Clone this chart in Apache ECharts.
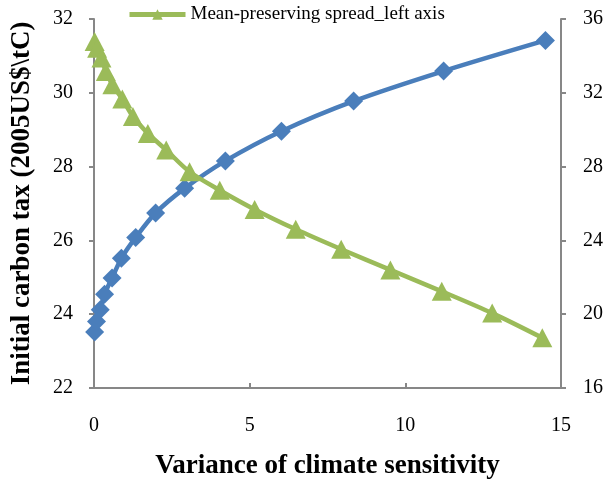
<!DOCTYPE html>
<html>
<head>
<meta charset="utf-8">
<script src="https://cdn.jsdelivr.net/npm/echarts@6/dist/echarts.min.js"></script>
<style>html,body{margin:0;padding:0;background:#fff}#c{width:608px;height:490px}</style>
</head>
<body>
<div id="c"></div>
<script>
// Green series: mean-preserving spread (left axis)
const greenName = 'Mean-preserving spread_left axis';
const greenX = [0.02, 0.10, 0.24, 0.38, 0.59, 0.91, 1.25, 1.73, 2.32, 3.07, 4.04, 5.16, 6.48, 7.94, 9.52, 11.17, 12.79, 14.40];
const greenY = [31.39, 31.21, 30.94, 30.58, 30.22, 29.83, 29.36, 28.90, 28.45, 27.86, 27.36, 26.84, 26.30, 25.76, 25.20, 24.62, 24.03, 23.36];
// Blue series (right axis)
const blueName = 'Right axis series';
const blueX = [0.02, 0.08, 0.20, 0.34, 0.58, 0.88, 1.34, 1.98, 2.91, 4.22, 6.02, 8.34, 11.23, 14.50];
const blueY = [19.03, 19.61, 20.24, 21.08, 21.96, 23.03, 24.16, 25.49, 26.82, 28.31, 29.92, 31.55, 33.18, 34.84];
// Axes
const xTicks = {min: 0, max: 15, interval: 5};
const leftTicks = {min: 22, max: 32, interval: 2};
const rightTicks = {min: 16, max: 36, interval: 4};
const xTitle = 'Variance of climate sensitivity';
const yTitle = 'Initial carbon tax (2005US$\\tC)';

const serif = 'Liberation Serif';
const axisGray = '#878787';
const chart = echarts.init(document.getElementById('c'));
const pair = (xs, ys) => xs.map((x, i) => [x, ys[i]]);
chart.setOption({
  animation: false,
  backgroundColor: '#fff',
  grid: {left: 94, right: 47, top: 19, bottom: 102, containLabel: false},
  legend: {
    data: [greenName], left: 127, top: 5, padding: 0, itemWidth: 56, itemHeight: 13, itemGap: 4,
    lineStyle: {width: 5},
    textStyle: {fontFamily: serif, fontSize: 19, color: '#000'}
  },
  xAxis: {
    type: 'value', min: xTicks.min, max: xTicks.max, interval: xTicks.interval,
    name: xTitle, nameLocation: 'middle', nameGap: 65,
    nameTextStyle: {fontFamily: serif, fontSize: 27, fontWeight: 'bold', color: '#000'},
    axisLine: {show: true, lineStyle: {color: axisGray, width: 2}},
    axisTick: {show: true, inside: true, length: 5, lineStyle: {color: axisGray, width: 2}},
    axisLabel: {fontFamily: serif, fontSize: 20, color: '#000', margin: 28},
    splitLine: {show: false}
  },
  yAxis: [{
    type: 'value', position: 'left', min: leftTicks.min, max: leftTicks.max, interval: leftTicks.interval,
    name: yTitle, nameLocation: 'middle', nameGap: 58, nameRotate: 90,
    nameTextStyle: {fontFamily: serif, fontSize: 27, fontWeight: 'bold', color: '#000'},
    axisLine: {show: true, lineStyle: {color: axisGray, width: 2}},
    axisTick: {show: true, length: 5, lineStyle: {color: axisGray, width: 2}},
    axisLabel: {fontFamily: serif, fontSize: 20, color: '#000', margin: 21},
    splitLine: {show: false}
  }, {
    type: 'value', position: 'right', min: rightTicks.min, max: rightTicks.max, interval: rightTicks.interval,
    axisLine: {show: true, lineStyle: {color: axisGray, width: 2}},
    axisTick: {show: true, length: 5, lineStyle: {color: axisGray, width: 2}},
    axisLabel: {fontFamily: serif, fontSize: 20, color: '#000', margin: 22},
    splitLine: {show: false}
  }],
  series: [{
    name: blueName, type: 'line', yAxisIndex: 1, data: pair(blueX, blueY),
    smooth: 0.3, symbol: 'diamond', symbolSize: 19,
    lineStyle: {color: '#4a7ebb', width: 4.5}, itemStyle: {color: '#4a7ebb'}, z: 2
  }, {
    name: greenName, type: 'line', yAxisIndex: 0, data: pair(greenX, greenY),
    smooth: 0.3, symbol: 'triangle', symbolSize: [20, 19],
    lineStyle: {color: '#9bbb59', width: 4.5}, itemStyle: {color: '#9bbb59'}, z: 3
  }]
});
</script>
</body>
</html>
